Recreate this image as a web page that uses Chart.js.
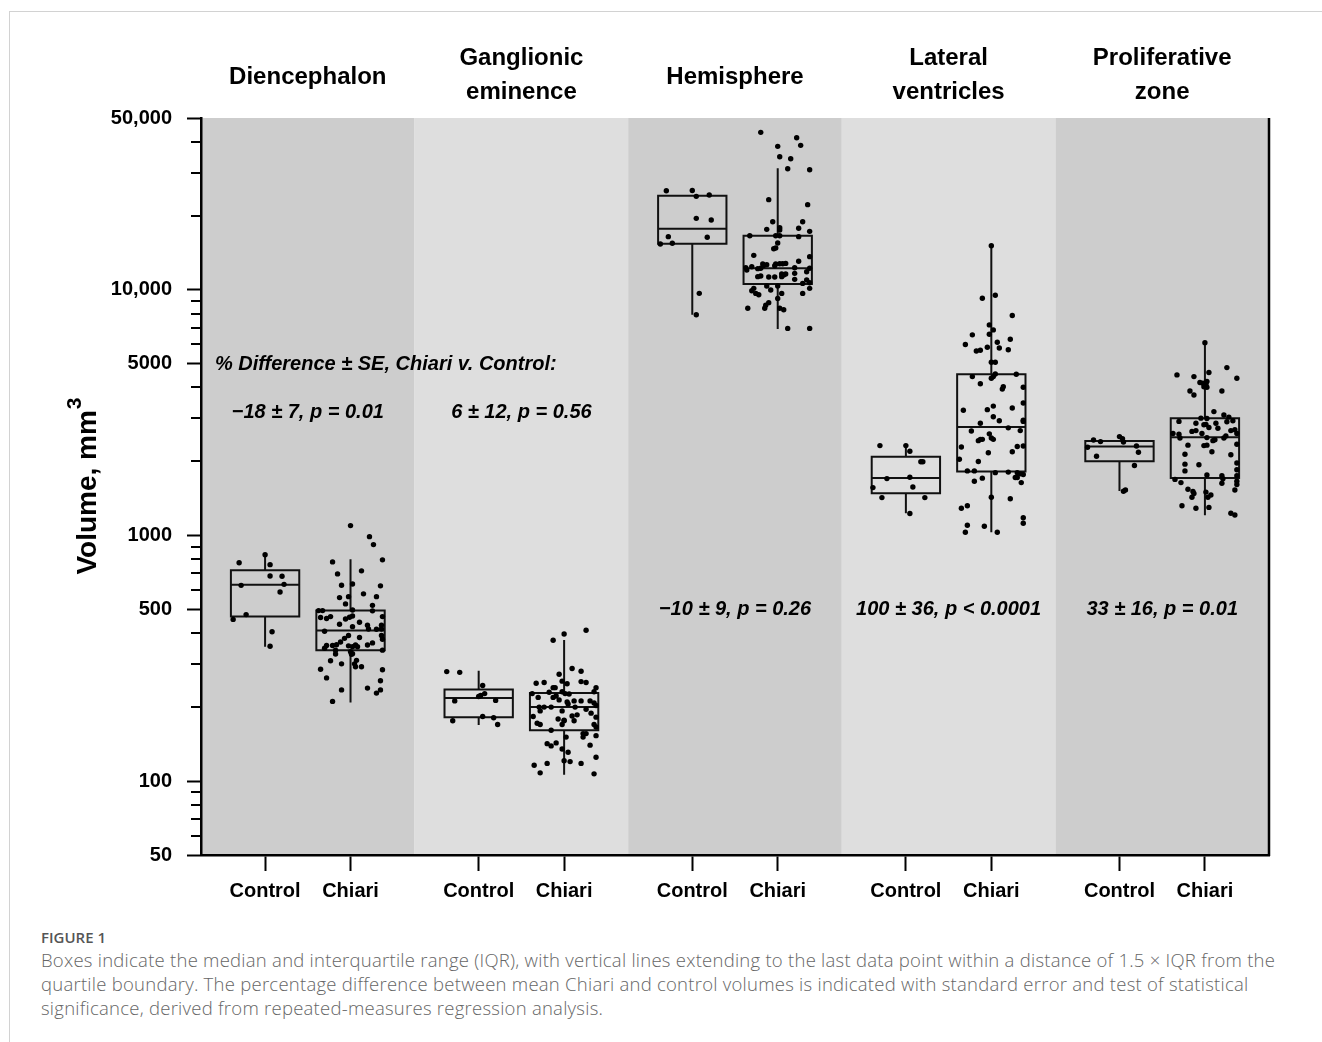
<!DOCTYPE html>
<html>
<head>
<meta charset="utf-8">
<script src="https://cdn.jsdelivr.net/npm/chart.js@4.4.0/dist/chart.umd.min.js"></script>
<style>
  html, body { margin: 0; padding: 0; background: #fff; }
  body { width: 1322px; height: 1042px; position: relative; overflow: hidden; }
  #frame { position: absolute; left: 9px; top: 11px; right: -2px; bottom: -2px; border-top: 1px solid #d2d2d2; border-left: 1px solid #d2d2d2; }
  #chart { position: absolute; left: 0; top: 0; }
  #caption { position: absolute; left: 41px; top: 926px; font-family: "Open Sans", sans-serif; color: #666; white-space: nowrap; }
  #caption .fig { font-size: 15px; font-weight: 600; color: #555; line-height: 22px; }
  #caption .text { font-size: 18.5px; letter-spacing: 0.25px; line-height: 24px; font-weight: 300; }
</style>
</head>
<body>
<div id="frame"></div>
<canvas id="chart" width="1322" height="920"></canvas>
<div id="caption">
  <div class="fig">FIGURE 1</div>
  <div class="text">Boxes indicate the median and interquartile range (IQR), with vertical lines extending to the last data point within a distance of 1.5 × IQR from the<br>quartile boundary. The percentage difference between mean Chiari and control volumes is indicated with standard error and test of statistical<br>significance, derived from repeated-measures regression analysis.</div>
</div>
<script>
const regions = ["Diencephalon", ["Ganglionic", "eminence"], "Hemisphere", ["Lateral", "ventricles"], ["Proliferative", "zone"]];
const groups = ["Control", "Chiari"];
const yTitle = ["Volume, mm", "3"];

// y axis labelled ticks
const yLabelValues = [50, 100, 500, 1000, 5000, 10000, 50000];
const yLabelTexts = ["50", "100", "500", "1000", "5000", "10,000", "50,000"];
const yMinorValues = [60, 70, 80, 90, 200, 300, 400, 600, 700, 800, 900, 2000, 3000, 4000, 6000, 7000, 8000, 9000, 20000, 30000, 40000];

// box summaries, order: Dien Control, Dien Chiari, GE Control, GE Chiari, Hemi ..., LV ..., PZ ...
const boxLow = [352, 209, 169, 106, 7910, 6920, 1230, 1030, 1517, 1207];
const boxQ1 = [467, 341, 182, 161, 15390, 10550, 1484, 1818, 2003, 1713];
const boxMedian = [630, 410, 218, 200, 17710, 12220, 1713, 2764, 2298, 2508];
const boxQ3 = [721, 494, 236, 228, 24130, 16590, 2092, 4528, 2424, 2998];
const boxHigh = [840, 799, 281, 375, 24130, 31190, 2334, 15100, 2424, 6090];

// percentage differences
const diffHeader = "% Difference \u00b1 SE, Chiari v. Control:";
const diffLabels = ["\u221218 \u00b1 7, p = 0.01", "6 \u00b1 12, p = 0.56", "\u221210 \u00b1 9, p = 0.26", "100 \u00b1 36, p < 0.0001", "33 \u00b1 16, p = 0.01"];
const diffLabelY = [3150, 3150, 500, 500, 500];
const diffHeaderY = 4940;

// individual volumes (mm3) and horizontal jitter
const dienControlVol = [834, 774, 760, 683, 682, 626, 632, 588, 476, 455, 405, 354];
const dienControlJit = [0, -26, 5, 5, 17, -24, 19, 15, -19, -32, 7, 5];
const dienChiariVol = [1096, 988, 917, 780, 795, 717, 697, 627, 634, 623, 578, 558, 563, 563, 526, 519, 497, 493, 494, 494,
  463, 459, 467, 457, 464, 470, 443, 435, 425, 431, 467, 431, 407, 391, 381, 368, 384, 416, 415, 416,
  391, 378, 359, 356, 356, 355, 358, 352, 352, 358, 365, 341, 347, 341, 336, 330, 329, 328, 310, 300,
  292, 292, 309, 300, 285, 263, 284, 256, 235, 239, 228, 235, 211];
const dienChiariJit = [0, 19, 23, -18, 32, 11, -13, -9, 2, 30, 13, -11, -2, 26, -5, 22, 2, 22, -32, -28,
  -30, -24, -20, -5, -1, 2, 9, -11, 2, 17, 32, 31, -26, -2, -6, -10, 9, 18, 26, 31,
  31, 32, -14, -24, -18, -2, 5, 2, 7, 17, 22, 32, -26, -15, 0, 2, -15, 1, 6, 4,
  5, 11, -20, -9, -30, -24, 32, 30, -9, 17, 26, 30, -18];

const geControlVol = [279, 277, 245, 221, 223, 227, 212, 213, 176, 183, 181, 170];
const geControlJit = [-32, -19, 4, 0, 2, 6, -24, 17, -26, 4, 15, 19];
const geChiariVol = [397, 411, 374, 287, 280, 272, 250, 252, 255, 249, 254, 252, 240, 240, 240, 230, 231, 227, 226, 231,
  227, 219, 219, 222, 214, 210, 212, 212, 212, 208, 200, 200, 200, 193, 206, 200, 196, 203, 193, 189,
  183, 179, 177, 184, 186, 176, 182, 172, 170, 170, 176, 170, 166, 161, 151, 156, 156, 151, 153, 142,
  139, 143, 140, 135, 131, 125, 121, 120, 118, 116, 118, 108, 107];
const geChiariJit = [0, 22, -11, 8, 17, -5, -28, -20, -2, 3, 17, 22, -11, -9, 32, -15, -2, 1, 5, 30,
  -32, -26, -11, -8, -5, 3, 10, 17, 26, 30, -25, -20, -13, -24, 4, 11, 22, 32, -2, 27,
  -31, -6, 0, 8, 13, 10, 32, -27, -24, -2, 0, 30, 32, -13, 2, 19, 22, 19, 32, -17,
  -13, -8, 26, -2, 4, 32, 0, 6, 17, -30, -17, -24, 30];

const hemiControlVol = [25300, 25350, 23990, 24290, 19520, 19220, 16440, 16340, 15350, 15450, 9665, 7913];
const hemiControlJit = [-26, 0, 4, 17, 4, 19, -24, 15, -32, -20, 7, 4];
const hemiChiariVol = [43710, 41570, 38690, 38330, 34790, 34150, 31090, 30800, 23260, 22190, 18920, 18920, 17610, 17890, 17500, 17780, 17280, 16590, 16590, 16590,
  16440, 15490, 14690, 14780, 13800, 13630, 13050, 12720, 12640, 12720, 12760, 12800, 12760, 12290, 12410, 12180, 12220, 12560, 12520, 12290,
  12220, 12030, 11840, 11300, 11370, 11260, 11260, 11590, 11480, 11590, 11660, 11020, 10950, 10680, 10610, 11300, 10130, 10350, 10350, 10130,
  9910, 9660, 9540, 9970, 9660, 9660, 9220, 8860, 8640, 8400, 8410, 8410, 8290, 6960, 6960];
const hemiChiariJit = [-17, 19, 23, 0, 2, 13, 10, 32, -9, 30, -5, 25, -11, 2, 2, 21, 32, -28, -2, 2,
  21, 0, -4, -2, -24, 32, 21, -15, -11, -2, 2, 8, 5, -32, -26, -20, -17, -14, -3, 17,
  32, -31, 29, -20, -17, -9, -3, 4, 6, 8, 17, 17, 29, 32, 25, 4, -24, -11, 0, 32,
  -26, -22, -19, -7, 4, 25, 0, -9, -12, -13, -30, 2, 6, 10, 32];

const lvControlVol = [2320, 2320, 2200, 1995, 1995, 1703, 1724, 1565, 1574, 1425, 1425, 1227];
const lvControlJit = [-26, 0, 4, 15, 17, -19, 4, -33, 7, -24, 19, 4];
const lvChiariVol = [15100, 9490, 9230, 7850, 7190, 6860, 6590, 6550, 6290, 5980, 6110, 5830, 5790, 5700, 5630, 5670, 5070, 5070, 4430, 4360,
  4430, 4540, 4530, 4140, 3940, 4030, 4010, 3230, 3360, 3250, 3300, 3460, 3040, 2930, 2940, 2910, 2860, 2660, 2740, 2670,
  2590, 2490, 2460, 2430, 2460, 2460, 2290, 2300, 2310, 2190, 2170, 2040, 2000, 1830, 1830, 1800, 1810, 1800, 1780, 1770,
  1720, 1720, 1660, 1710, 1640, 1430, 1410, 1290, 1320, 1180, 1120, 1100, 1090, 1030, 1030];
const lvChiariJit = [0, 4, -9, 21, -2, 2, -2, -19, 19, -26, 6, -4, 8, 17, -15, -11, 0, 4, -19, 0,
  2, 4, 25, -11, 11, 12, 32, -28, 2, -4, 21, 32, 2, 8, 32, 32, -11, -20, 17, 29,
  -2, 0, 2, -13, -11, -9, -30, 26, 32, 21, -3, -32, -13, -24, -17, 4, 17, 26, 29, 32,
  24, 26, -17, -9, 30, 0, 19, -30, -24, 32, 32, -24, -7, -26, 6];

const pzControlVol = [2446, 2408, 2524, 2477, 2400, 2284, 2312, 2180, 2100, 1924, 1512, 1531];
const pzControlJit = [-26, -19, 0, 3, 4, -32, 17, 19, -23, 15, 4, 6];
const pzChiariVol = [6090, 4500, 4430, 4600, 4820, 4360, 4190, 4160, 4120, 4230, 4030, 4010, 3870, 3730, 3870, 3190, 3090, 3030, 2910, 2860,
  3000, 2990, 2820, 2830, 2860, 2900, 2930, 2730, 2650, 2670, 2750, 2600, 2580, 2600, 2670, 2690, 2600, 2490, 2500, 2450,
  2430, 2490, 2540, 2330, 2320, 2350, 2330, 2190, 2140, 2130, 1950, 1940, 1970, 1830, 1850, 1690, 1640, 1760, 1750, 1700,
  1750, 1630, 1660, 1610, 1540, 1510, 1500, 1480, 1460, 1430, 1430, 1530, 1320, 1290, 1300, 1230, 1210];
const pzChiariJit = [0, -28, -11, 4, 22, 32, -5, -2, 1, 2, -1, 2, -15, -11, 17, 9, 19, 24, -26, -9,
  -4, 2, -1, 1, 11, 22, 28, 13, -13, -9, 4, -32, -26, -3, 26, 30, 32, -25, 2, 10,
  8, 19, 21, 2, -1, 32, -17, 7, -20, 26, -20, -6, 32, -20, 32, -30, -24, 2, 17, 18,
  32, 17, 32, 32, -17, -12, 1, -11, 6, 3, -13, 30, -23, -9, 4, 26, 30];

const pointSets = [
  [dienControlVol, dienControlJit], [dienChiariVol, dienChiariJit],
  [geControlVol, geControlJit], [geChiariVol, geChiariJit],
  [hemiControlVol, hemiControlJit], [hemiChiariVol, hemiChiariJit],
  [lvControlVol, lvControlJit], [lvChiariVol, lvChiariJit],
  [pzControlVol, pzControlJit], [pzChiariVol, pzChiariJit]
];

// each region is one unit wide on x; control and chiari sit inside it
const JITTER_UNIT = 1 / 214;
const BOX_HALF = 0.16;
const groupCentre = i => Math.floor(i / 2) + (i % 2 ? 0.7 : 0.3);
const centres = pointSets.map((s, i) => groupCentre(i));

const FONT = '"Liberation Sans", Arial, Helvetica, sans-serif';
Chart.defaults.font.family = FONT;
Chart.defaults.color = "#000";

const datasets = pointSets.map(([vol, jit], i) => ({
    type: "scatter",
    data: vol.map((v, k) => ({ x: centres[i] + (jit[k] || 0) * JITTER_UNIT, y: v })),
    backgroundColor: "#000",
    borderWidth: 0,
    pointRadius: 2.7,
    pointHoverRadius: 2.7
}));

const panels = {
    id: "panels",
    beforeDraw(chart) {
        const { ctx, chartArea: a, scales: { x } } = chart;
        ctx.save();
        regions.forEach((r, i) => {
            const l = x.getPixelForValue(i);
            const rgt = x.getPixelForValue(i + 1);
            ctx.fillStyle = i % 2 ? "#dedede" : "#cdcdcd";
            ctx.fillRect(l, a.top, rgt - l, a.bottom - a.top);
        });
        ctx.restore();
    }
};

const boxes = {
    id: "boxes",
    beforeDatasetsDraw(chart) {
        const { ctx, scales: { x, y } } = chart;
        ctx.save();
        ctx.strokeStyle = "#111";
        ctx.lineWidth = 2;
        centres.forEach((c, i) => {
            const xl = x.getPixelForValue(c - BOX_HALF);
            const xr = x.getPixelForValue(c + BOX_HALF);
            const xc = x.getPixelForValue(c);
            const y1 = y.getPixelForValue(boxQ1[i]);
            const y3 = y.getPixelForValue(boxQ3[i]);
            const ym = y.getPixelForValue(boxMedian[i]);
            ctx.beginPath();
            ctx.moveTo(xc, y.getPixelForValue(boxHigh[i]));
            ctx.lineTo(xc, y3);
            ctx.moveTo(xc, y1);
            ctx.lineTo(xc, y.getPixelForValue(boxLow[i]));
            ctx.rect(xl, y3, xr - xl, y1 - y3);
            ctx.moveTo(xl, ym);
            ctx.lineTo(xr, ym);
            ctx.stroke();
        });
        ctx.restore();
    }
};

const decorations = {
    id: "decorations",
    afterDraw(chart) {
        const { ctx, chartArea: a, scales: { x, y } } = chart;
        ctx.save();
        // minor y ticks
        ctx.strokeStyle = "#000";
        ctx.lineWidth = 2;
        ctx.beginPath();
        yMinorValues.forEach(v => {
            const py = Math.round(y.getPixelForValue(v));
            ctx.moveTo(a.left - 1, py);
            ctx.lineTo(a.left - 10, py);
        });
        ctx.stroke();
        // right frame line
        ctx.lineWidth = 2.5;
        ctx.beginPath();
        ctx.moveTo(a.right, a.top);
        ctx.lineTo(a.right, a.bottom + 1);
        ctx.stroke();

        // y axis title with raised superscript
        ctx.fillStyle = "#000";
        ctx.save();
        ctx.translate(a.left - 113, (a.top + a.bottom) / 2);
        ctx.rotate(-Math.PI / 2);
        ctx.textBaseline = "middle";
        ctx.textAlign = "left";
        ctx.font = "bold 28px " + FONT;
        const w1 = ctx.measureText(yTitle[0]).width;
        ctx.font = "bold 21px " + FONT;
        const w2 = ctx.measureText(yTitle[1]).width;
        const start = -(w1 + w2) / 2;
        ctx.font = "bold 28px " + FONT;
        ctx.fillText(yTitle[0], start, 0);
        ctx.font = "bold 21px " + FONT;
        ctx.fillText(yTitle[1], start + w1 + 1, -13);
        ctx.restore();

        // region titles
        ctx.textAlign = "center";
        ctx.textBaseline = "middle";
        ctx.font = "bold 24px " + FONT;
        regions.forEach((r, i) => {
            const px = x.getPixelForValue(i + 0.5);
            if (Array.isArray(r)) {
                ctx.fillText(r[0], px, a.top - 60);
                ctx.fillText(r[1], px, a.top - 26);
            } else {
                ctx.fillText(r, px, a.top - 41);
            }
        });

        // percentage differences
        ctx.font = "italic bold 20px " + FONT;
        ctx.textAlign = "left";
        ctx.fillText(diffHeader, x.getPixelForValue(0.065), y.getPixelForValue(diffHeaderY));
        ctx.textAlign = "center";
        diffLabels.forEach((t, i) => {
            ctx.fillText(t, x.getPixelForValue(i + 0.5), y.getPixelForValue(diffLabelY[i]));
        });
        ctx.restore();
    }
};

new Chart(document.getElementById("chart").getContext("2d"), {
    type: "scatter",
    data: { datasets },
    options: {
        responsive: false,
        animation: false,
        devicePixelRatio: 1,
        events: [],
        layout: { padding: { top: 118, right: 53, bottom: 0, left: 0 } },
        plugins: { legend: { display: false }, tooltip: { enabled: false } },
        scales: {
            x: {
                type: "linear",
                min: 0,
                max: regions.length,
                afterBuildTicks: s => { s.ticks = centres.map(v => ({ value: v })); },
                afterFit: s => { s.height = 65; },
                ticks: {
                    autoSkip: false,
                    maxRotation: 0,
                    padding: 8,
                    font: { size: 20, weight: "bold" },
                    callback: (v, i) => groups[i % 2]
                },
                grid: { drawOnChartArea: false, drawTicks: true, tickLength: 16, tickWidth: 2, tickColor: "#000" },
                border: { display: true, color: "#000", width: 2.5 }
            },
            y: {
                type: "logarithmic",
                min: 50,
                max: 50000,
                afterBuildTicks: s => { s.ticks = yLabelValues.map(v => ({ value: v, major: true })); },
                afterFit: s => { s.width = 201; },
                ticks: {
                    autoSkip: false,
                    padding: 15,
                    font: { size: 20, weight: "bold" },
                    callback: (v, i) => yLabelTexts[i]
                },
                grid: { drawOnChartArea: false, drawTicks: true, tickLength: 14, tickWidth: 2, tickColor: "#000" },
                border: { display: true, color: "#000", width: 2.5 }
            }
        }
    },
    plugins: [panels, boxes, decorations]
});
</script>
</body>
</html>
